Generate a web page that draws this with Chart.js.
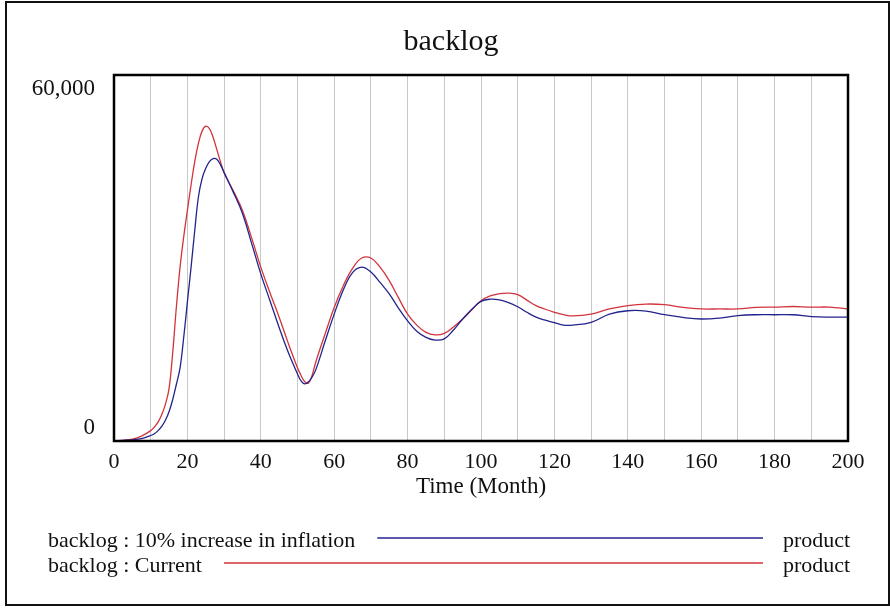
<!DOCTYPE html>
<html>
<head>
<meta charset="utf-8">
<script src="https://cdn.jsdelivr.net/npm/chart.js@4.4.1/dist/chart.umd.min.js"></script>
<style>
html,body{margin:0;padding:0;background:#fff;}
#wrap{width:890px;height:608px;position:relative;}
</style>
</head>
<body>
<div id="wrap"><canvas id="c" width="890" height="608"></canvas></div>
<script>
// ---- data ----
const chartTitle = "backlog";
const xAxisTitle = "Time (Month)";
const time = [0,2.5,5,7.5,10,11,12,13,14,15,16,17,18,19,20,21,22,23,24,25,26,27,28,29,30,
  32.5,35,37.5,40,42.5,45,47.5,50,51,52,53,54,55,57.5,60,62.5,65,67.5,70,72.5,75,77.5,80,82.5,85,87.5,90,92.5,95,97.5,100,
  102.5,105,107.5,110,112.5,115,117.5,120,122.5,125,130,135,140,145,150,155,160,165,170,175,180,185,190,195,200];
const backlogInflation = [0,100,200,400,900,1200,1700,2400,3400,4800,6800,9300,12000,17000,22800,28500,34500,40000,43000,44700,45800,46300,46200,45300,44000,
  40800,37300,32400,27400,23000,18600,14500,11000,9800,9350,9700,10500,11700,16300,20800,24800,27600,28500,27700,26000,24100,21800,19700,18000,17000,16550,16750,18200,20000,21600,22900,
  23250,23150,22700,22000,21100,20300,19800,19400,19000,19000,19450,20800,21350,21300,20700,20250,20000,20150,20550,20700,20700,20700,20400,20300,20300];
const backlogCurrent = [0,100,300,800,1700,2300,3100,4300,6000,8600,14500,22000,28500,33500,37800,42000,45800,48800,50800,51600,51200,49800,47800,45800,44000,
  41000,37800,33300,28500,24300,20300,16000,12000,10700,9700,9500,10800,13000,17500,21900,25500,28300,30000,30000,28500,26300,23500,20800,19000,17800,17400,17650,18700,20000,21500,23000,
  23800,24150,24250,24000,23100,22200,21600,21100,20700,20500,20800,21650,22200,22450,22350,21900,21650,21650,21650,21900,21950,22050,21950,21950,21650];
const seriesNames = ["backlog : 10% increase in inflation", "backlog : Current"];
const seriesUnits = ["product", "product"];
const seriesColors = ["#23238c", "#d2343c"];
const yTickValues = [0, 60000];
const yTickLabels = ["0", "60,000"];
const xTickLabelStep = 20;

const FONT = "'Liberation Serif', 'Times New Roman', serif";

const decor = {
  id: 'decor',
  afterDatasetsDraw(chart) {
    const ctx = chart.ctx;
    const a = chart.chartArea;
    const ys = chart.scales.y;
    ctx.save();
    // plot border
    ctx.strokeStyle = '#000';
    ctx.lineWidth = 2.5;
    ctx.strokeRect(a.left, a.top, a.right - a.left, a.bottom - a.top);
    // outer frame
    ctx.lineWidth = 2;
    ctx.strokeStyle = '#111';
    ctx.strokeRect(6, 2, 883, 603);
    // title
    ctx.fillStyle = '#111';
    ctx.font = "30px " + FONT;
    ctx.textAlign = 'center';
    ctx.textBaseline = 'alphabetic';
    ctx.fillText(chartTitle, 451, 50);
    // y tick labels (inside-offset like the reference)
    ctx.font = "23px " + FONT;
    ctx.textAlign = 'right';
    ctx.textBaseline = 'middle';
    yTickValues.forEach((v, i) => {
      const py = ys.getPixelForValue(v);
      const off = (v === ys.max) ? 14 : -13;
      ctx.fillText(yTickLabels[i], 95, py + off);
    });
    // x axis title
    ctx.textAlign = 'center';
    ctx.font = "23px " + FONT;
    ctx.fillText(xAxisTitle, 481, 487);
    // legend
    ctx.font = "22px " + FONT;
    const rowsY = [541, 566];
    seriesNames.forEach((name, i) => {
      const y = rowsY[i];
      ctx.textAlign = 'left';
      ctx.fillStyle = '#111';
      ctx.fillText(name, 48, y);
      const w = ctx.measureText(name).width;
      ctx.strokeStyle = seriesColors[i];
      ctx.lineWidth = 1.3;
      ctx.beginPath();
      ctx.moveTo(48 + w + 22, y - 3);
      ctx.lineTo(763, y - 3);
      ctx.stroke();
      ctx.fillText(seriesUnits[i], 783, y);
    });
    ctx.restore();
  }
};

new Chart(document.getElementById('c'), {
  type: 'line',
  data: {
    datasets: [
      { label: seriesNames[0], data: time.map((t, i) => ({x: t, y: backlogInflation[i]})),
        borderColor: seriesColors[0], borderWidth: 1.3, pointRadius: 0, tension: 0.4, fill: false },
      { label: seriesNames[1], data: time.map((t, i) => ({x: t, y: backlogCurrent[i]})),
        borderColor: seriesColors[1], borderWidth: 1.3, pointRadius: 0, tension: 0.4, fill: false }
    ]
  },
  options: {
    responsive: false,
    animation: false,
    devicePixelRatio: 1,
    layout: { padding: { left: 0, top: 75, right: 42, bottom: 107 } },
    plugins: { legend: { display: false }, title: { display: false }, tooltip: { enabled: false } },
    scales: {
      x: {
        type: 'linear', min: 0, max: 200,
        border: { display: false },
        grid: { color: '#c8c8c8', lineWidth: 1, drawTicks: false },
        ticks: {
          stepSize: 10, autoSkip: false, maxRotation: 0, padding: 8,
          color: '#111', font: { family: FONT, size: 22 },
          callback: v => (v % xTickLabelStep === 0 ? String(v) : '')
        },
        afterFit: s => { s.height = 60; }
      },
      y: {
        type: 'linear', min: 0, max: 60000,
        border: { display: false },
        grid: { display: false, drawTicks: false },
        ticks: { display: false },
        afterFit: s => { s.width = 114; }
      }
    }
  },
  plugins: [decor]
});
</script>
</body>
</html>
